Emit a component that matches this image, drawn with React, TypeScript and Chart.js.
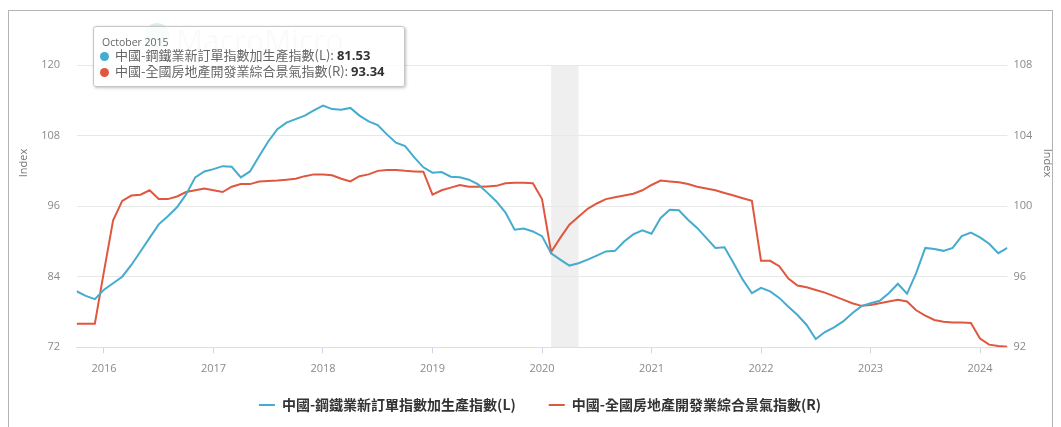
import React, { useEffect, useRef } from "react";
import { Chart, registerables } from "chart.js";

Chart.register(...registerables);

// ---------------- data ----------------
const startMonth = "2015-10";
const steelIndex = [
  81.53, 80.75, 80.2,
  81.8, 82.9, 84.0, 86.0, 88.3, 90.6, 92.9, 94.3, 95.8, 98.0, 100.9, 101.9,
  102.3, 102.8, 102.7, 100.9, 101.9, 104.5, 107.0, 109.1, 110.2, 110.8, 111.4, 112.3,
  113.1, 112.5, 112.4, 112.7, 111.4, 110.4, 109.8, 108.2, 106.8, 106.2, 104.3, 102.6,
  101.7, 101.8, 101.0, 100.9, 100.5, 99.7, 98.3, 96.8, 94.9, 92.0, 92.2, 91.7,
  90.9, 88.0, 86.9, 85.9, 86.3, 86.9, 87.6, 88.3, 88.4, 90.0, 91.2, 91.9,
  91.3, 94.0, 95.4, 95.3, 93.7, 92.3, 90.6, 88.9, 89.0, 86.3, 83.5, 81.2,
  82.1, 81.5, 80.4, 78.9, 77.5, 75.8, 73.4, 74.6, 75.4, 76.4, 77.8, 79.0,
  79.5, 79.9, 81.2, 82.8, 81.1, 84.6, 88.9, 88.7, 88.4, 88.9, 90.9, 91.5,
  90.7, 89.6, 88.0, 88.9,
];
const realEstateIndex = [
  93.34, 93.34, 93.34,
  96.3, 99.2, 100.3, 100.6, 100.65, 100.9, 100.4, 100.4, 100.55, 100.8, 100.9, 101.0,
  100.9, 100.8, 101.1, 101.25, 101.25, 101.4, 101.42, 101.45, 101.5, 101.55, 101.7, 101.8,
  101.8, 101.75, 101.55, 101.4, 101.7, 101.8, 102.0, 102.05, 102.05, 102.0, 101.97, 101.95,
  100.65, 100.9, 101.05, 101.2, 101.1, 101.1, 101.12, 101.15, 101.3, 101.32, 101.32, 101.3,
  100.4, 97.4, 98.2, 98.95, 99.4, 99.85, 100.15, 100.4, 100.5, 100.6, 100.7, 100.9,
  101.2, 101.45, 101.4, 101.35, 101.25, 101.1, 101.0, 100.9, 100.75, 100.6, 100.45, 100.3,
  96.9, 96.9, 96.6, 95.9, 95.5, 95.4, 95.25, 95.1, 94.9, 94.7, 94.5, 94.35,
  94.4, 94.5, 94.6, 94.7, 94.6, 94.1, 93.8, 93.55, 93.45, 93.4, 93.4, 93.38,
  92.5, 92.15, 92.07, 92.03,
];
const seriesNames = [
  "中國-鋼鐵業新訂單指數加生產指數(L)",
  "中國-全國房地產開發業綜合景氣指數(R)",
];
const seriesColors = ["#45abcf", "#e0573f"];
const yearTicks = ["2016", "2017", "2018", "2019", "2020", "2021", "2022", "2023", "2024"];
const leftTicks = [72, 84, 96, 108, 120];
const rightTicks = [92, 96, 100, 104, 108];
const shadedPeriod = ["2020-02", "2020-05"];
const axisTitle = "Index";
const monthNames = [
  "January", "February", "March", "April", "May", "June",
  "July", "August", "September", "October", "November", "December",
];

// ---------------- helpers ----------------
const monthIndex = (s: string) => {
  const [y, m] = s.split("-").map(Number);
  return (y - 2016) * 12 + (m - 1);
};
const startIdx = monthIndex(startMonth);
const months: number[] = steelIndex.map((_, i) => startIdx + i);
const tooltipTitle = (() => {
  const [y, m] = startMonth.split("-").map(Number);
  return `${monthNames[m - 1]} ${y}`;
})();

const decorPlugin = {
  id: "decor",
  beforeDraw(chart: any) {
    const { ctx, chartArea, scales } = chart;
    ctx.save();
    // watermark
    ctx.fillStyle = "rgba(120,200,195,0.28)";
    ctx.beginPath();
    ctx.arc(157, 36, 13, 0, Math.PI * 2);
    ctx.fill();
    ctx.fillStyle = "rgba(160,180,195,0.35)";
    ctx.font = '30px "Open Sans", sans-serif';
    ctx.textBaseline = "middle";
    ctx.fillText("MacroMicro", 176, 42);
    // shaded band
    const x0 = scales.x.getPixelForValue(monthIndex(shadedPeriod[0]));
    const x1 = scales.x.getPixelForValue(monthIndex(shadedPeriod[1]));
    ctx.fillStyle = "#efefef";
    ctx.fillRect(x0, chartArea.top, x1 - x0, chartArea.bottom - chartArea.top);
    ctx.restore();
  },
  afterDraw(chart: any) {
    const { ctx } = chart;
    const drawTitle = (x: number, rot: number) => {
      ctx.save();
      ctx.fillStyle = "#777";
      ctx.font = '11px "Open Sans", sans-serif';
      ctx.textAlign = "center";
      ctx.textBaseline = "middle";
      ctx.translate(x, 163);
      ctx.rotate(rot);
      ctx.fillText(axisTitle, 0, 0);
      ctx.restore();
    };
    drawTitle(24, -Math.PI / 2);
    drawTitle(1047, Math.PI / 2);
  },
};

const tickFont = { size: 11, family: '"Open Sans", sans-serif' };

export default function App() {
  const canvasRef = useRef<HTMLCanvasElement | null>(null);

  useEffect(() => {
    if (!canvasRef.current) return;
    const chart = new Chart(canvasRef.current, {
      type: "line",
      data: {
        datasets: [
          {
            label: seriesNames[0],
            data: months.map((m, i) => ({ x: m, y: steelIndex[i] })),
            yAxisID: "y",
            borderColor: seriesColors[0],
            backgroundColor: seriesColors[0],
            borderWidth: 2,
            pointRadius: 0,
            tension: 0,
          },
          {
            label: seriesNames[1],
            data: months.map((m, i) => ({ x: m, y: realEstateIndex[i] })),
            yAxisID: "y1",
            borderColor: seriesColors[1],
            backgroundColor: seriesColors[1],
            borderWidth: 2,
            pointRadius: 0,
            tension: 0,
          },
        ],
      },
      options: {
        responsive: false,
        animation: false,
        devicePixelRatio: 1,
        layout: { padding: { left: 19, right: 0, top: 65, bottom: 5 } },
        plugins: {
          legend: {
            position: "bottom",
            labels: {
              usePointStyle: true,
              pointStyle: "line",
              pointStyleWidth: 16,
              padding: 33,
              color: "#333",
              font: { size: 14, weight: "bold", family: '"Noto Sans CJK TC", sans-serif' },
            },
          },
          tooltip: { enabled: false },
        },
        scales: {
          x: {
            type: "linear",
            min: months[0],
            max: months[months.length - 1],
            afterBuildTicks: (s: any) => {
              s.ticks = yearTicks.map((y) => ({ value: monthIndex(y + "-01") }));
            },
            afterFit: (s: any) => {
              s.height = 17.7;
              // let the year labels draw below the (short) axis box
              s._computeLabelArea = () => undefined;
            },
            grid: { drawOnChartArea: false, drawTicks: true, tickLength: 6, color: "#ccd6eb" },
            border: { color: "#dedede" },
            ticks: {
              autoSkip: false,
              maxRotation: 0,
              padding: 9,
              color: "#8a8a8a",
              font: tickFont,
              callback: (v: any) => {
                const i = yearTicks.findIndex((y) => monthIndex(y + "-01") === v);
                return i >= 0 ? yearTicks[i] : "";
              },
            },
          },
          y: {
            position: "left",
            min: leftTicks[0],
            max: leftTicks[leftTicks.length - 1],
            afterBuildTicks: (s: any) => {
              s.ticks = leftTicks.map((v) => ({ value: v }));
            },
            afterFit: (s: any) => {
              s.width = 57.6;
            },
            grid: { color: "#e8e8e8", drawTicks: false, tickLength: 0 },
            border: { display: false },
            ticks: { padding: 16.6, color: "#8a8a8a", font: tickFont },
          },
          y1: {
            position: "right",
            min: rightTicks[0],
            max: rightTicks[rightTicks.length - 1],
            afterBuildTicks: (s: any) => {
              s.ticks = rightTicks.map((v) => ({ value: v }));
            },
            afterFit: (s: any) => {
              s.width = 53.6;
            },
            grid: { display: false, drawTicks: false, tickLength: 0 },
            border: { display: false },
            ticks: { padding: 6, color: "#8a8a8a", font: tickFont },
          },
        },
      } as any,
      plugins: [decorPlugin],
    });
    return () => chart.destroy();
  }, []);

  const rowStyle: React.CSSProperties = {
    position: "absolute",
    left: 6,
    height: 16,
    lineHeight: "16px",
    whiteSpace: "nowrap",
    fontSize: 13,
    color: "#666",
    fontFamily: '"Noto Sans CJK TC", sans-serif',
  };
  const dot = (c: string): React.CSSProperties => ({
    display: "inline-block",
    width: 9,
    height: 9,
    borderRadius: "50%",
    background: c,
    marginRight: 6,
    verticalAlign: "-0.5px",
  });
  const valStyle: React.CSSProperties = {
    fontWeight: "bold",
    color: "#333",
    fontFamily: '"Open Sans", sans-serif',
  };

  return (
    <div
      style={{
        position: "fixed",
        left: 0,
        top: 0,
        width: 1061,
        height: 427,
        overflow: "hidden",
        background: "#fff",
      }}
    >
      <canvas
        ref={canvasRef}
        width={1061}
        height={427}
        style={{ position: "absolute", left: 0, top: 0, width: 1061, height: 427 }}
      />
      <div
        style={{
          position: "absolute",
          left: 8,
          top: 10,
          width: 1045,
          height: 440,
          boxSizing: "border-box",
          border: "1px solid #b4b4b4",
          pointerEvents: "none",
        }}
      />
      <div
        style={{
          position: "absolute",
          left: 93,
          top: 26,
          width: 312,
          height: 61,
          boxSizing: "border-box",
          background: "rgba(255,255,255,0.82)",
          border: "1px solid #c6c6c6",
          borderRadius: 3,
          boxShadow: "1px 1px 3px rgba(0,0,0,0.25)",
        }}
      >
        <div
          style={{
            position: "absolute",
            left: 8,
            top: 9,
            fontSize: 10.5,
            lineHeight: "13px",
            color: "#666",
            fontFamily: '"Open Sans", sans-serif',
          }}
        >
          {tooltipTitle}
        </div>
        <div style={{ ...rowStyle, top: 20 }}>
          <span style={dot(seriesColors[0])} />
          {seriesNames[0]}: <span style={valStyle}>{steelIndex[0].toFixed(2)}</span>
        </div>
        <div style={{ ...rowStyle, top: 36 }}>
          <span style={dot(seriesColors[1])} />
          {seriesNames[1]}: <span style={valStyle}>{realEstateIndex[0].toFixed(2)}</span>
        </div>
      </div>
    </div>
  );
}
